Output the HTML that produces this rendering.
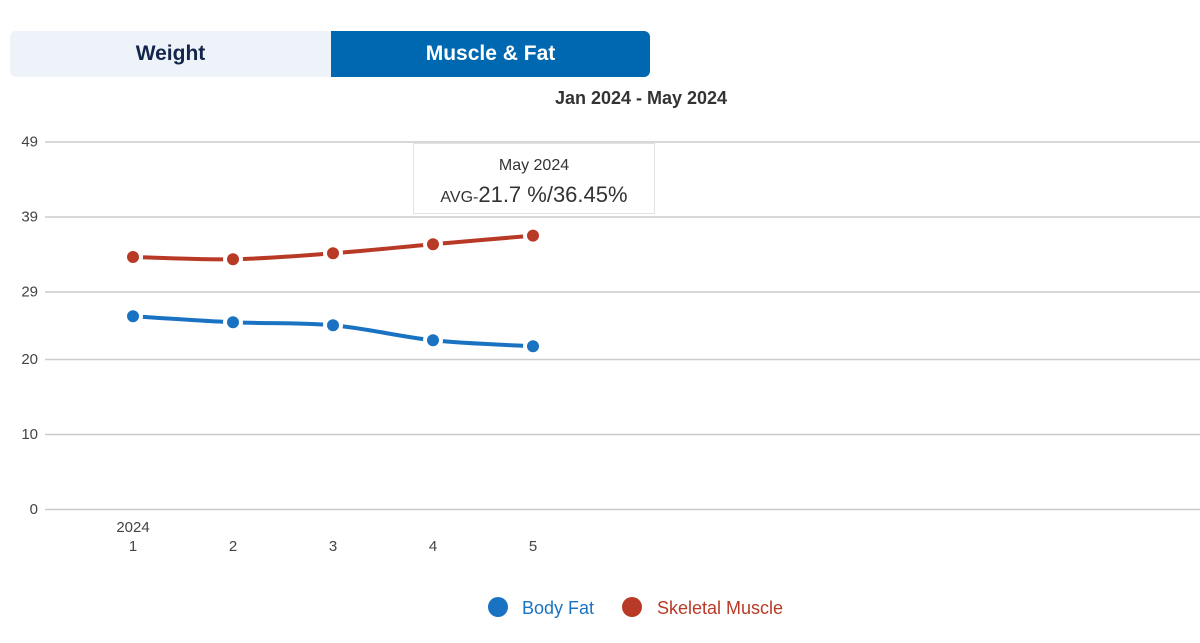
<!DOCTYPE html>
<html><head><meta charset="utf-8"><style>
body{margin:0;width:1200px;height:643px;background:#fff;font-family:"Liberation Sans",sans-serif;position:relative;overflow:hidden}
.tab{position:absolute;top:31px;height:46px;line-height:46px;text-align:center;font-weight:bold;font-size:21px}
</style></head><body>
<div class="tab" style="left:10px;width:321px;background:#eef3f9;color:#13254a;border-radius:6px 0 0 6px">Weight</div>
<div class="tab" style="left:331px;width:319px;background:#0067b1;color:#fff;border-radius:0 6px 6px 0">Muscle &amp; Fat</div>
<svg id="chart" width="1200" height="643" style="position:absolute;left:0;top:0">
<text x="641" y="104" text-anchor="middle" font-size="18" font-weight="bold" fill="#333">Jan 2024 - May 2024</text>
<g id="grid"></g><g id="series"></g>
<g>
<rect x="413.5" y="143.5" width="241" height="70" fill="#fff" stroke="#e2e2e2"/>
<text x="534" y="170" text-anchor="middle" font-size="16" fill="#333">May 2024</text>
<text x="534" y="202" text-anchor="middle" fill="#333"><tspan font-size="16">AVG-</tspan><tspan font-size="22">21.7 %/36.45%</tspan></text>
</g>
<g>
<circle cx="498" cy="607" r="10" fill="#1a73c2"/>
<text x="522" y="614" font-size="18" fill="#1a73c2">Body Fat</text>
<circle cx="632" cy="607" r="10" fill="#b83a26"/>
<text x="657" y="614" font-size="18" fill="#b83a26">Skeletal Muscle</text>
</g>
</svg>
<script>
const categories=[1,2,3,4,5];
const bodyFat=[25.7,24.9,24.5,22.5,21.7];
const skeletalMuscle=[33.6,33.3,34.1,35.3,36.45];
const yTicks=[0,10,20,29,39,49];
const NS="http://www.w3.org/2000/svg";
const xS=c=>133+(c-1)*100;
const yS=v=>509-v*7.5;
function mk(t,a,p){const e=document.createElementNS(NS,t);for(const k in a)e.setAttribute(k,a[k]);p.appendChild(e);return e;}
const grid=document.getElementById('grid');
yTicks.forEach(t=>{
 const l=mk('line',{x1:45,x2:1200,y1:yS(t)+0.5,y2:yS(t)+0.5,stroke:'#ccc','stroke-width':1.5},grid);
 
 
 const tx=mk('text',{x:38,y:yS(t)+5,'text-anchor':'end','font-size':15,fill:'#444'},grid);
 tx.textContent=t;
 
 
});
categories.forEach((c,i)=>{
 const tx=mk('text',{x:xS(c),y:551,'text-anchor':'middle','font-size':15,fill:'#444'},grid);
 tx.textContent=c;
 
 
 if(i===0){const y=mk('text',{x:xS(c),y:532,'text-anchor':'middle','font-size':15,fill:'#444'},grid);y.textContent='2024';
 
 }
});
function path(vals){const p=vals.map((v,i)=>[xS(categories[i]),yS(v)]);let d='M'+p[0];
 for(let i=0;i<p.length-1;i++){const p0=p[i-1]||p[i],p1=p[i],p2=p[i+1],p3=p[i+2]||p2;
 const c1=[p1[0]+(p2[0]-p0[0])/6,p1[1]+(p2[1]-p0[1])/6],c2=[p2[0]-(p3[0]-p1[0])/6,p2[1]-(p3[1]-p1[1])/6];
 d+=' C'+c1+' '+c2+' '+p2;}return d;}
const sg=document.getElementById('series');
[[bodyFat,'#1a73c2','body-fat'],[skeletalMuscle,'#b83a26','skeletal-muscle']].forEach(([vals,col,nm])=>{
 const l=mk('path',{d:path(vals),fill:'none',stroke:col,'stroke-width':4},sg);
 
 
 vals.forEach((v,i)=>{const c=mk('circle',{cx:xS(categories[i]),cy:yS(v),r:8,fill:col,stroke:'#fff','stroke-width':4},sg);
 
 });
});
</script>
</body></html>
